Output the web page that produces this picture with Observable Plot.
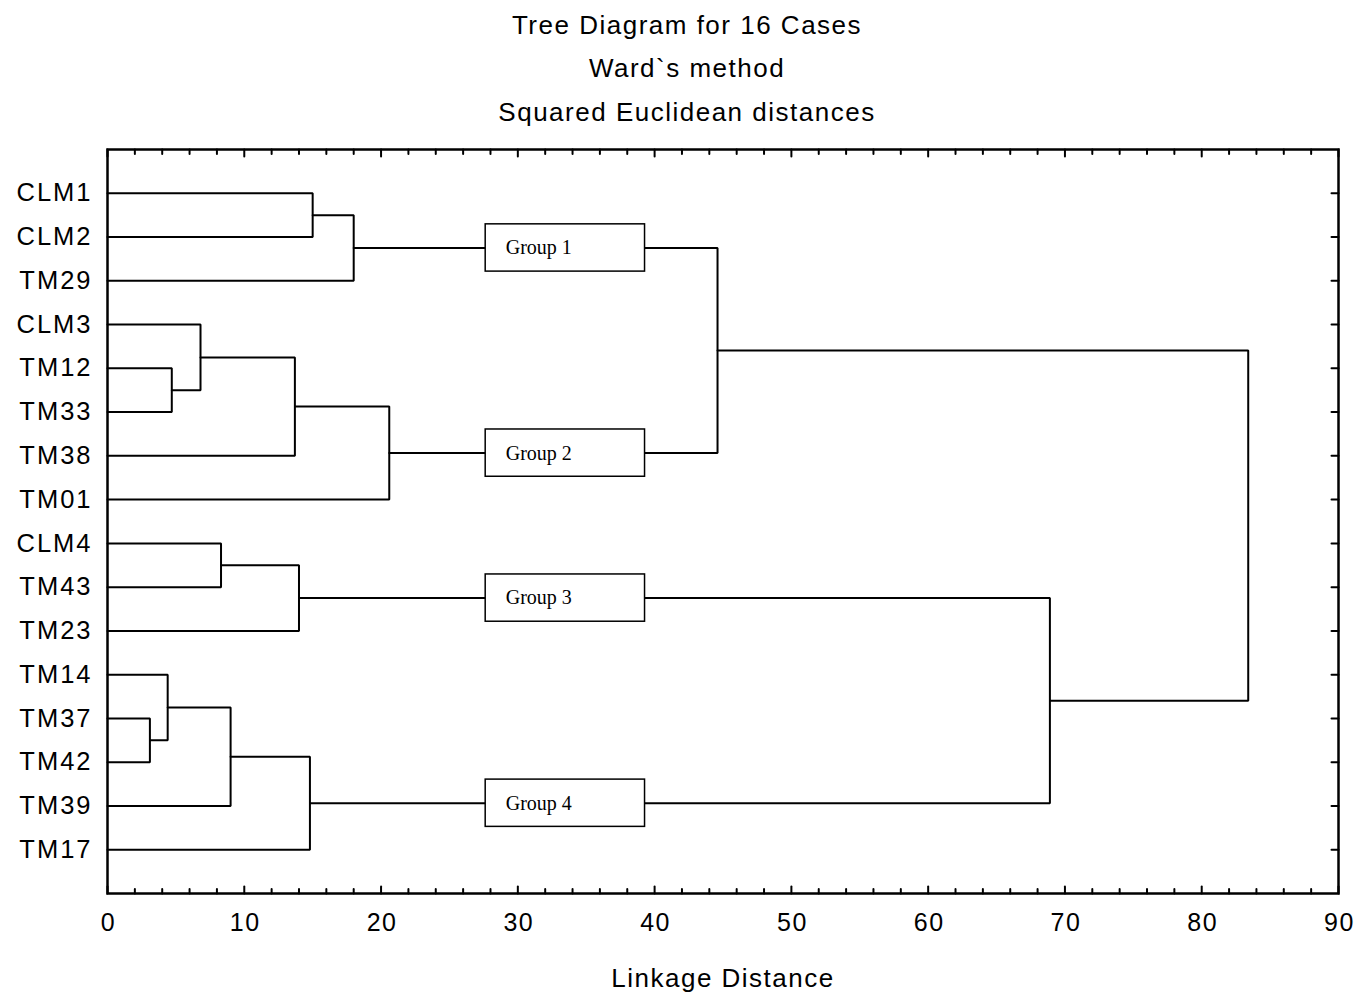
<!DOCTYPE html>
<html>
<head>
<meta charset="utf-8">
<script src="https://cdn.jsdelivr.net/npm/d3@7"></script>
<script src="https://cdn.jsdelivr.net/npm/@observablehq/plot@0.6"></script>
<style>
  html, body { margin: 0; padding: 0; background: #fff; }
  #chart svg { display: block; }
  #chart svg text { letter-spacing: 1.5px; }
  #chart svg g[font-size="25.5"] text { letter-spacing: 2px; }
  #chart svg g[font-family*="Serif"] text { letter-spacing: 0; }
</style>
</head>
<body>
<div id="chart"></div>
<script>
// ---- data ----
const titleLines = ["Tree Diagram for 16 Cases", "Ward`s method", "Squared Euclidean distances"];
const xAxisTitle = "Linkage Distance";
const cases = ["CLM1", "CLM2", "TM29", "CLM3", "TM12", "TM33", "TM38", "TM01",
               "CLM4", "TM43", "TM23", "TM14", "TM37", "TM42", "TM39", "TM17"];
// merge i joins mergeA[i] and mergeB[i] at linkage distance mergeHeight[i]; it is then called "m" + i
const mergeA = ["CLM1", "m0", "TM12", "CLM3", "m3", "m4", "m1", "CLM4", "m7", "TM37", "TM14", "m10", "m11", "m8", "m6"];
const mergeB = ["CLM2", "TM29", "TM33", "m2", "TM38", "TM01", "m5", "TM43", "TM23", "TM42", "m9", "TM39", "TM17", "m12", "m13"];
const mergeHeight = [15.0, 18.0, 4.7, 6.8, 13.7, 20.6, 44.6, 8.3, 14.0, 3.1, 4.4, 9.0, 14.8, 68.9, 83.4];
const groupLabels = ["Group 1", "Group 2", "Group 3", "Group 4"];
const groupNodes = ["m1", "m5", "m8", "m12"];
const xMajorTicks = [0, 10, 20, 30, 40, 50, 60, 70, 80, 90];
const xMinorTicks = [2, 4, 6, 8, 12, 14, 16, 18, 22, 24, 26, 28, 32, 34, 36, 38, 42, 44, 46, 48,
                     52, 54, 56, 58, 62, 64, 66, 68, 72, 74, 76, 78, 82, 84, 86, 88];

// ---- layout (derived) ----
const boxX1 = 27.65, boxX2 = 39.3, boxHalf = 0.54;
const pos = new Map();
cases.forEach((c, i) => pos.set(c, {x: 0, y: i + 1}));
const branches = [];
mergeA.forEach((a, i) => {
  const A = pos.get(a), B = pos.get(mergeB[i]), h = mergeHeight[i];
  branches.push({id: i, x: A.x, y: A.y}, {id: i, x: h, y: A.y}, {id: i, x: h, y: B.y}, {id: i, x: B.x, y: B.y});
  pos.set("m" + i, {x: h, y: (A.y + B.y) / 2});
});
const groups = groupLabels.map((label, i) => ({label, y: pos.get(groupNodes[i]).y}));
const rows = cases.map((c, i) => ({name: c, y: i + 1}));

const up = {draw(c, l) { c.moveTo(0, 0); c.lineTo(0, -l); }};
const down = {draw(c, l) { c.moveTo(0, 0); c.lineTo(0, l); }};
const leftward = {draw(c, l) { c.moveTo(0, 0); c.lineTo(-l, 0); }};

const sans = "Arial, 'Liberation Sans', sans-serif";
const serif = "'Times New Roman', 'Liberation Serif', serif";

const chart = Plot.plot({
  width: 1360,
  height: 995,
  marginLeft: 107,
  marginRight: 22,
  marginTop: 149,
  marginBottom: 102,
  style: {fontFamily: sans, background: "white", color: "black"},
  x: {domain: [0, 90], axis: null},
  y: {domain: [0, 17], reverse: true, axis: null},
  marks: [
    Plot.line(branches, {x: "x", y: "y", z: "id", stroke: "black", strokeWidth: 2, strokeLinejoin: "miter"}),
    Plot.rect(groups, {x1: boxX1, x2: boxX2, y1: d => d.y - boxHalf, y2: d => d.y + boxHalf,
                       fill: "white", stroke: "black", strokeWidth: 1.5}),
    Plot.text(groups, {x: boxX1, y: "y", text: "label", dx: 20, textAnchor: "start",
                       fontFamily: serif, fontSize: 20, fill: "black"}),
    // axis ticks (pointing inward)
    Plot.vector(xMajorTicks, {x: d => d, frameAnchor: "bottom", length: 7, anchor: "start", shape: up, strokeWidth: 2, stroke: "black"}),
    Plot.vector(xMinorTicks, {x: d => d, frameAnchor: "bottom", length: 4.5, anchor: "start", shape: up, strokeWidth: 2, stroke: "black"}),
    Plot.vector(xMajorTicks, {x: d => d, frameAnchor: "top", length: 7, anchor: "start", shape: down, strokeWidth: 2, stroke: "black"}),
    Plot.vector(xMinorTicks, {x: d => d, frameAnchor: "top", length: 4.5, anchor: "start", shape: down, strokeWidth: 2, stroke: "black"}),
    Plot.vector(rows, {y: "y", frameAnchor: "right", length: 7, anchor: "start", shape: leftward, strokeWidth: 2, stroke: "black"}),
    // tick labels
    Plot.text(xMajorTicks, {x: d => d, text: d => String(d), frameAnchor: "bottom", dy: 29, dx: 1,
                            fontSize: 25, lineAnchor: "middle", fill: "black"}),
    Plot.text(rows, {y: "y", text: "name", frameAnchor: "left", dx: -15, textAnchor: "end",
                     fontSize: 25.5, lineAnchor: "middle", fill: "black"}),
    // titles
    ...titleLines.map((t, i) => Plot.text([t], {text: d => d, frameAnchor: "top", dx: -36, dy: -124 + i * 43.5,
                                               fontSize: 26, lineAnchor: "middle", fill: "black"})),
    Plot.text([xAxisTitle], {text: d => d, frameAnchor: "bottom", dy: 85, fontSize: 26, lineAnchor: "middle", fill: "black"}),
    Plot.frame({stroke: "black", strokeWidth: 2.5})
  ]
});
document.getElementById("chart").appendChild(chart);
</script>
</body>
</html>
